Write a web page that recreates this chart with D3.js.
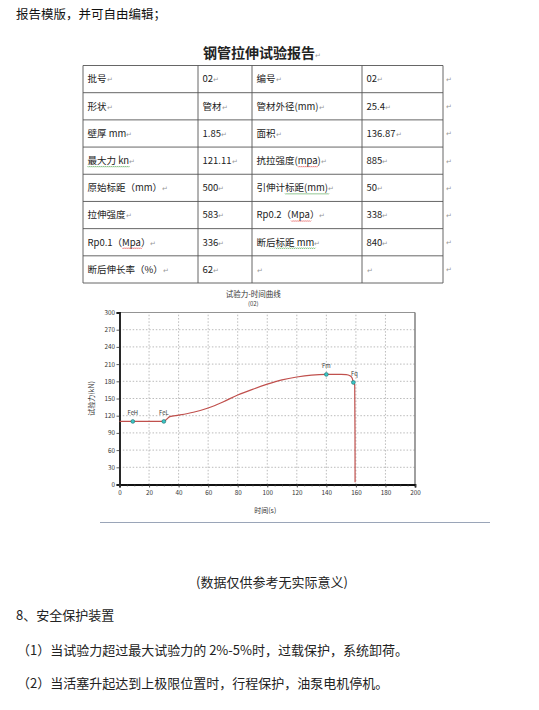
<!DOCTYPE html>
<html><head><meta charset="utf-8">
<script src="https://cdn.jsdelivr.net/npm/d3@7/dist/d3.min.js"></script>
<style>
html,body{margin:0;padding:0;background:#fff;}
svg{display:block;}
text{font-family:"Noto Sans CJK SC","Noto Sans",sans-serif;}
</style></head>
<body>
<script>
// ---------- data ----------
const introText = "报告模版，并可自由编辑；";
const reportTitle = "钢管拉伸试验报告";
const colLabelsA = ["批号","形状","壁厚 mm","最大力 kn","原始标距（mm）","拉伸强度","Rp0.1（Mpa）","断后伸长率（%）"];
const colValuesA = ["02","管材","1.85","121.11","500","583","336","62"];
const colLabelsB = ["编号","管材外径(mm)","面积","抗拉强度(mpa)","引伸计标距(mm)","Rp0.2（Mpa）","断后标距 mm",""];
const colValuesB = ["02","25.4","136.87","885","50","338","840",""];

const chartTitle = "试验力-时间曲线";
const chartSubtitle = "(02)";
const xLabel = "时间(s)";
const yLabel = "试验力(kN)";
const xTicks = [0,20,40,60,80,100,120,140,160,180,200];
const yTicks = [0,30,60,90,120,150,180,210,240,270,300];
const curveTime  = [0,9,20,30,32,34,40,50,60,70,80,90,100,110,120,130,140,150,153.5,156,157.5,158.3,159.2,159.4,159.45];
const curveForce = [110,110,110,110,114,118.5,121,126,133.5,144,156,166,175,182.5,187.5,190.8,192,192,191.7,189.5,185.5,178,173,90,4];
const markerNames = ["FeH","FeL","Fm","Fq"];
const markerTime  = [9,30,140,158.3];
const markerForce = [110,110,192,178];

const noteText = "(数据仅供参考无实际意义)";
const sectionTitle = "8、安全保护装置";
const bulletLines = ["（1）当试验力超过最大试验力的 2%-5%时，过载保护，系统卸荷。",
                     "（2）当活塞升起达到上极限位置时，行程保护，油泵电机停机。"];

// ---------- page ----------
const W = 539, H = 710;
const svg = d3.select("body").append("svg").attr("width",W).attr("height",H);
svg.append("rect").attr("width",W).attr("height",H).attr("fill","#fff");

svg.append("text").attr("x",16).attr("y",19).attr("font-size",12.5).attr("fill","#111").text(introText);

const t = svg.append("text").attr("x",262).attr("y",58).attr("text-anchor","middle")
  .attr("font-size",14).attr("font-weight",700).attr("fill","#222");
t.append("tspan").text(reportTitle);
t.append("tspan").attr("font-size",7).attr("font-weight",400).attr("fill","#999").text("↵");

// ---------- table ----------
const colX = [83,198,252,362,443];
const nRows = colLabelsA.length;
const rowY = d3.scaleLinear().domain([0,nRows]).range([65.5,283]);
const tbl = svg.append("g");
const rowsIdx = d3.range(nRows);
tbl.selectAll("line.h").data(d3.range(nRows+1)).join("line")
  .attr("x1",colX[0]).attr("x2",colX[4]).attr("y1",d=>rowY(d)).attr("y2",d=>rowY(d))
  .attr("stroke","#555").attr("stroke-width",0.9);
tbl.selectAll("line.v").data(colX).join("line")
  .attr("x1",d=>d).attr("x2",d=>d).attr("y1",rowY(0)).attr("y2",rowY(nRows))
  .attr("stroke","#555").attr("stroke-width",0.9);

const squiggles = {
  "0-3":[{s:0,n:6,c:"#3a9a3a"}],
  "2-3":[{s:5,n:3,c:"#d33"}],
  "2-4":[{s:3,n:6,c:"#3a9a3a"}],
  "2-5":[{s:6,n:3,c:"#d33"}],
  "0-6":[{s:6,n:3,c:"#d33"}],
  "2-6":[{s:2,n:5,c:"#3a9a3a"}]
};
const cols = [colLabelsA,colValuesA,colLabelsB,colValuesB];
cols.forEach((arr,ci)=>{
  arr.forEach((txt,ri)=>{
    const el = tbl.append("text").attr("x",colX[ci]+4.5).attr("y",(rowY(ri)+rowY(ri+1))/2+3.3)
      .attr("font-size",9.5).attr("fill","#222");
    el.append("tspan").text(txt);
    el.append("tspan").attr("font-size",6.5).attr("fill","#999").text("↵");
    const sq = squiggles[ci+"-"+ri];
    if(sq){
      const node = el.node();
      sq.forEach(q=>{
        const x0 = node.getStartPositionOfChar(q.s).x;
        const len = node.getSubStringLength(q.s,q.n);
        const yb = (rowY(ri)+rowY(ri+1))/2+5.5;
        let d = `M${x0},${yb}`;
        for(let x=x0; x<x0+len; x+=2){ d += ` L${x+1},${yb+1} L${x+2},${yb}`; }
        tbl.append("path").attr("d",d).attr("fill","none").attr("stroke",q.c).attr("stroke-width",0.6);
      });
    }
  });
  });
tbl.selectAll("text.rm").data(rowsIdx).join("text")
  .attr("x",colX[4]+3).attr("y",d=>(rowY(d)+rowY(d+1))/2+3).attr("font-size",6.5).attr("fill","#999").text("↵");

// ---------- chart ----------
const x = d3.scaleLinear().domain([0,200]).range([119.5,415]);
const y = d3.scaleLinear().domain([0,300]).range([484.5,312.5]);
const ch = svg.append("g");

ch.append("text").attr("x",(x(0)+x(200))/2-14).attr("y",297).attr("text-anchor","middle")
  .attr("font-size",7.5).attr("fill","#333").text(chartTitle);
ch.append("text").attr("x",(x(0)+x(200))/2-14).attr("y",306).attr("text-anchor","middle")
  .attr("font-size",6).attr("fill","#444").text(chartSubtitle);

// grid
ch.selectAll("line.gy").data(yTicks.filter(v=>v>0&&v<300)).join("line")
  .attr("x1",x(0)).attr("x2",x(200)).attr("y1",d=>y(d)).attr("y2",d=>y(d))
  .attr("stroke","#aaa").attr("stroke-width",0.8).attr("stroke-dasharray","1.5,1.8");
ch.selectAll("line.gx").data(xTicks.filter(v=>v>0&&v<200)).join("line")
  .attr("x1",d=>x(d)).attr("x2",d=>x(d)).attr("y1",y(0)).attr("y2",y(300))
  .attr("stroke","#aaa").attr("stroke-width",0.8).attr("stroke-dasharray","1.5,1.8");

// frame top/right
ch.append("line").attr("x1",x(0)).attr("x2",x(200)).attr("y1",y(300)).attr("y2",y(300)).attr("stroke","#888").attr("stroke-width",0.9);
ch.append("line").attr("x1",x(200)).attr("x2",x(200)).attr("y1",y(300)).attr("y2",y(0)).attr("stroke","#777").attr("stroke-width",1.4);

// axes
const gy = ch.append("g").attr("transform",`translate(${x(0)},0)`)
  .call(d3.axisLeft(y).tickValues(yTicks).tickSize(3).tickPadding(1.5));
const gx = ch.append("g").attr("transform",`translate(0,${y(0)})`)
  .call(d3.axisBottom(x).tickValues(xTicks).tickSize(3).tickPadding(3));
const gxm = ch.append("g").attr("transform",`translate(0,${y(0)})`)
  .call(d3.axisBottom(x).tickValues(d3.range(0,201,5)).tickSize(2).tickFormat(""));
gxm.select(".domain").remove();
[gy,gx].forEach(g=>{
  g.select(".domain").attr("stroke","#111").attr("stroke-width",1.8);
  g.selectAll(".tick line").attr("stroke","#333").attr("stroke-width",0.8);
  g.selectAll(".tick text").attr("font-size",6.3).attr("fill","#333")
    .attr("font-family","'Liberation Sans',Arial,sans-serif");
});
gxm.selectAll(".tick line").attr("stroke","#444").attr("stroke-width",0.6);

ch.append("text").attr("x",(x(0)+x(200))/2-2).attr("y",513).attr("text-anchor","middle")
  .attr("font-size",7).attr("fill","#333").text(xLabel);
ch.append("text").attr("transform",`translate(94,${(y(0)+y(300))/2}) rotate(-90)`).attr("text-anchor","middle")
  .attr("font-size",7).attr("fill","#333").text(yLabel);

// curve
const pts = curveTime.map((tv,i)=>[tv,curveForce[i]]);
ch.append("path").datum(pts)
  .attr("d",d3.line().x(d=>x(d[0])).y(d=>y(d[1])).curve(d3.curveMonotoneX))
  .attr("fill","none").attr("stroke","#c0504d").attr("stroke-width",1.2);

// markers
const mk = markerNames.map((n,i)=>({n,t:markerTime[i],f:markerForce[i]}));
ch.selectAll("circle.mk").data(mk).join("circle")
  .attr("cx",d=>x(d.t)).attr("cy",d=>y(d.f)).attr("r",1.9)
  .attr("fill","#3cc6c6").attr("stroke","#1f6f6f").attr("stroke-width",0.6);
ch.selectAll("text.mk").data(mk).join("text")
  .attr("x",d=>x(d.t)+(d.n==="Fq"?1:0)).attr("y",d=>y(d.f)-6).attr("text-anchor","middle")
  .attr("font-size",5.8).attr("fill","#333").attr("font-family","'Liberation Sans',Arial,sans-serif")
  .text(d=>d.n);

// separator
svg.append("line").attr("x1",100).attr("x2",490).attr("y1",522.5).attr("y2",522.5)
  .attr("stroke","#9aa5b8").attr("stroke-width",1);

// ---------- bottom text ----------
svg.append("text").attr("x",272).attr("y",587).attr("text-anchor","middle")
  .attr("font-size",13).attr("fill","#222").text(noteText);
svg.append("text").attr("x",16).attr("y",619.5).attr("font-size",13).attr("fill","#222").text(sectionTitle);
svg.selectAll("text.bl").data(bulletLines).join("text")
  .attr("x",17).attr("y",(d,i)=>655+i*32.5).attr("font-size",13).attr("fill","#222").text(d=>d);
</script>
</body></html>
